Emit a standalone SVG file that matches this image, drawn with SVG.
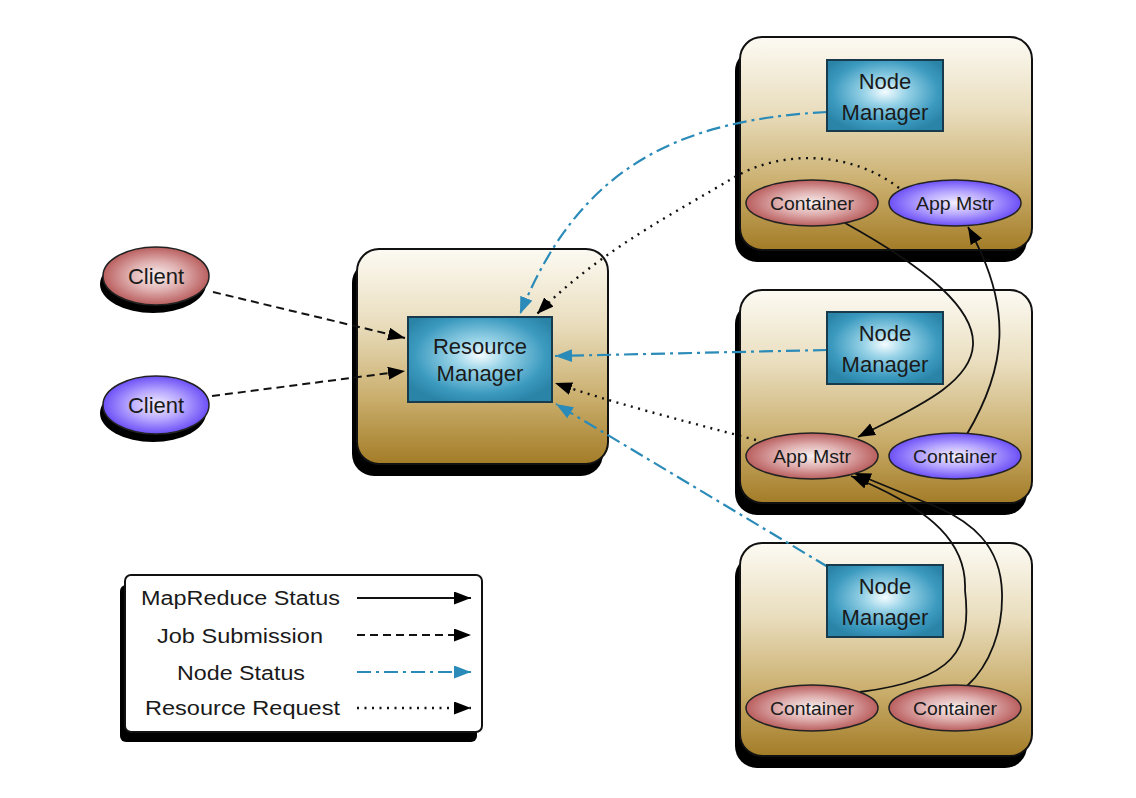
<svg xmlns="http://www.w3.org/2000/svg" width="1136" height="798" viewBox="0 0 1136 798">
<defs>
<style>
text{font-family:"Liberation Sans",Arial,sans-serif;fill:#1a1a1a;}
.box{fill:url(#gold);stroke:#111;stroke-width:2;}
.shadow{fill:#000;}
.mgr{fill:url(#teal);stroke:#173a4c;stroke-width:2;}
.red{fill:url(#redg);stroke:#222;stroke-width:1.5;}
.blue{fill:url(#blueg);stroke:#222;stroke-width:1.5;}
.mgrt{font-size:22px;text-anchor:middle;}
.ellt{font-size:19px;text-anchor:middle;}
.leg{font-size:20px;}
.solid{fill:none;stroke:#111;stroke-width:1.8;marker-end:url(#ab);}
.dash{fill:none;stroke:#111;stroke-width:2;stroke-dasharray:8 5;marker-end:url(#ab);}
.dot{fill:none;stroke:#111;stroke-width:2.4;stroke-dasharray:2 5.5;marker-end:url(#ab);}
.dd{fill:none;stroke:#2a8ab8;stroke-width:2.2;stroke-dasharray:14 5 3 5;marker-end:url(#at);}
</style>
<linearGradient id="gold" x1="0" y1="0" x2="0" y2="1">
<stop offset="0" stop-color="#fcfaf3"/>
<stop offset="0.35" stop-color="#e9ddbd"/>
<stop offset="0.7" stop-color="#c9ad6b"/>
<stop offset="1" stop-color="#a37c27"/>
</linearGradient>
<radialGradient id="teal" cx="0.5" cy="0.45" r="0.6">
<stop offset="0" stop-color="#f4fcff"/>
<stop offset="0.3" stop-color="#9ad4e8"/>
<stop offset="0.75" stop-color="#3d9bc0"/>
<stop offset="1" stop-color="#2a84a8"/>
</radialGradient>
<radialGradient id="redg" cx="0.5" cy="0.5" r="0.55">
<stop offset="0" stop-color="#f8f0f0"/>
<stop offset="0.45" stop-color="#e0b0b0"/>
<stop offset="1" stop-color="#b24e4e"/>
</radialGradient>
<radialGradient id="blueg" cx="0.5" cy="0.5" r="0.55">
<stop offset="0" stop-color="#f4f0ff"/>
<stop offset="0.45" stop-color="#b8a8ff"/>
<stop offset="1" stop-color="#5e3ef5"/>
</radialGradient>
<marker id="ab" markerUnits="userSpaceOnUse" markerWidth="18" markerHeight="14" refX="17" refY="6.5" orient="auto">
<path d="M0,0 L17,6.5 L0,13 z" fill="#000"/>
</marker>
<marker id="at" markerUnits="userSpaceOnUse" markerWidth="18" markerHeight="14" refX="17" refY="6.5" orient="auto">
<path d="M0,0 L17,6.5 L0,13 z" fill="#2a8ab8"/>
</marker>
</defs>

<g id="node-box-1">
<rect class="shadow" x="735" y="49" width="292" height="213" rx="22"/>
<rect class="box" x="740" y="37" width="292" height="213" rx="22"/>
</g>
<g id="node-box-2">
<rect class="shadow" x="735" y="302" width="292" height="213" rx="22"/>
<rect class="box" x="740" y="290" width="292" height="213" rx="22"/>
</g>
<g id="node-box-3">
<rect class="shadow" x="735" y="555" width="292" height="213" rx="22"/>
<rect class="box" x="740" y="543" width="292" height="213" rx="22"/>
</g>
<g id="rm-box">
<rect class="shadow" x="352" y="261" width="251" height="215" rx="22"/>
<rect class="box" x="357" y="249" width="251" height="215" rx="22"/>
</g>

<g id="client-1">
<ellipse class="shadow" cx="153" cy="284" rx="53" ry="29"/>
<ellipse class="red" cx="156" cy="276" rx="53" ry="29"/>
<text x="156" y="284" style="font-size:22px;text-anchor:middle">Client</text>
</g>
<g id="client-2">
<ellipse class="shadow" cx="153" cy="413" rx="53" ry="29"/>
<ellipse class="blue" cx="156" cy="405" rx="53" ry="29"/>
<text x="156" y="413" style="font-size:22px;text-anchor:middle">Client</text>
</g>

<g id="legend">
<rect class="shadow" x="120" y="585" width="357" height="157" rx="6"/>
<rect x="125" y="575" width="357" height="157" rx="6" fill="#fff" stroke="#111" stroke-width="2"/>
<text class="leg" x="141" y="605" textLength="199" lengthAdjust="spacingAndGlyphs">MapReduce Status</text>
<text class="leg" x="157" y="643" textLength="166" lengthAdjust="spacingAndGlyphs">Job Submission</text>
<text class="leg" x="177" y="680" textLength="128" lengthAdjust="spacingAndGlyphs">Node Status</text>
<text class="leg" x="145" y="715" textLength="195" lengthAdjust="spacingAndGlyphs">Resource Request</text>
<line class="solid" x1="357" y1="598" x2="471" y2="598"/>
<line class="dash" x1="357" y1="635" x2="471" y2="635"/>
<line class="dd" x1="357" y1="672" x2="471" y2="672"/>
<line class="dot" x1="357" y1="708" x2="471" y2="708"/>
</g>

<g id="connectors">
<path class="dash" d="M213,292 L405,338"/>
<path class="dash" d="M212,396 L405,371"/>
<path class="dd" d="M827,112 C680,120 580,165 520,314"/>
<path class="dot" d="M899,188 C850,150 780,150 733,178 C680,210 600,250 537,314"/>
<path class="dd" d="M827,350 L555,356"/>
<path class="dot" d="M756,440 C680,420 610,402 555,383"/>
<path class="dd" d="M828,567 L556,404"/>
<path class="solid" d="M845,223 C930,270 975,310 973,345 C971,385 910,410 858,437"/>
<path class="solid" d="M967,434 C1005,370 1015,310 968,227"/>
<path class="solid" d="M860,692 C955,680 972,650 965,590 C967,545 935,510 851,476"/>
<path class="solid" d="M967,686 C990,665 1003,630 1002,593 C1001,548 975,520 922,501 L854,473"/>
</g>

<g id="resource-manager">
<rect class="mgr" x="408" y="317" width="144" height="85"/>
<text class="mgrt" x="480" y="354">Resource</text>
<text class="mgrt" x="480" y="381">Manager</text>
</g>

<g id="node-manager-1">
<rect class="mgr" x="827" y="60" width="116" height="71"/>
<text class="mgrt" x="885" y="89">Node</text>
<text class="mgrt" x="885" y="120">Manager</text>
</g>
<g id="container-1a">
<ellipse class="red" cx="812" cy="203" rx="66" ry="23"/>
<text class="ellt" x="812" y="210" textLength="84" lengthAdjust="spacingAndGlyphs">Container</text>
</g>
<g id="appmstr-1">
<ellipse class="blue" cx="955" cy="203" rx="66" ry="23"/>
<text class="ellt" x="955" y="210" textLength="78" lengthAdjust="spacingAndGlyphs">App Mstr</text>
</g>

<g id="node-manager-2">
<rect class="mgr" x="827" y="312" width="116" height="72"/>
<text class="mgrt" x="885" y="341">Node</text>
<text class="mgrt" x="885" y="372">Manager</text>
</g>
<g id="appmstr-2">
<ellipse class="red" cx="812" cy="456" rx="66" ry="23"/>
<text class="ellt" x="812" y="463" textLength="78" lengthAdjust="spacingAndGlyphs">App Mstr</text>
</g>
<g id="container-2">
<ellipse class="blue" cx="955" cy="456" rx="66" ry="23"/>
<text class="ellt" x="955" y="463" textLength="84" lengthAdjust="spacingAndGlyphs">Container</text>
</g>

<g id="node-manager-3">
<rect class="mgr" x="827" y="565" width="116" height="72"/>
<text class="mgrt" x="885" y="594">Node</text>
<text class="mgrt" x="885" y="625">Manager</text>
</g>
<g id="container-3a">
<ellipse class="red" cx="812" cy="708" rx="66" ry="23"/>
<text class="ellt" x="812" y="715" textLength="84" lengthAdjust="spacingAndGlyphs">Container</text>
</g>
<g id="container-3b">
<ellipse class="red" cx="955" cy="708" rx="66" ry="23"/>
<text class="ellt" x="955" y="715" textLength="84" lengthAdjust="spacingAndGlyphs">Container</text>
</g>
</svg>
